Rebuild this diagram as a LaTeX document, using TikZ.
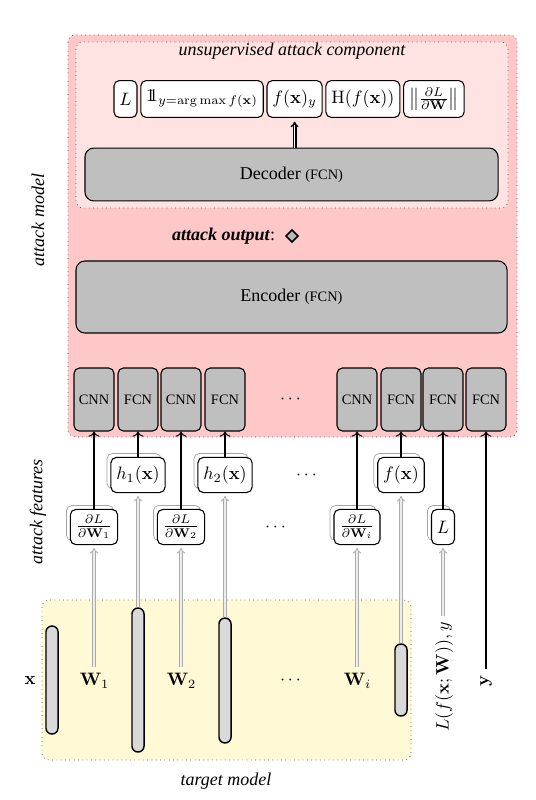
\documentclass[tikz,border=0pt]{standalone}
\usepackage{amsmath,amssymb}
\usepackage[no-math]{fontspec}
\setmainfont{Liberation Serif}
\usepackage{tikz}
\usetikzlibrary{arrows.meta,positioning,shapes.geometric,shadows}
\usepackage{xcolor}
\definecolor{atkpink}{HTML}{FFC8C8}
\definecolor{unsuppink}{HTML}{FFE3E3}
\definecolor{tgtyellow}{HTML}{FFF9D6}
\definecolor{netgray}{HTML}{BFBFBF}
\definecolor{layergray}{HTML}{D9D9D9}
\newcommand{\indicator}{\mathrm{1\mkern-6mu1}}

\begin{document}
\begin{tikzpicture}[
  x=0.5556pt, y=-0.5556pt,
  region/.style={draw=black!70, dotted, rounded corners=4pt, fill=#1},
  outbox/.style={draw, semithick, rounded corners=3pt, fill=white, minimum height=20.5pt, inner xsep=3pt, inner ysep=1pt},
  bigbox/.style={draw, semithick, rounded corners=5pt, fill=netgray},
  netbox/.style={draw, semithick, rounded corners=3pt, fill=netgray, minimum width=22.2pt, minimum height=35pt, inner sep=0pt, font=\footnotesize},
  featbox/.style={draw, semithick, rounded corners=3pt, fill=white, minimum height=19.5pt, inner xsep=3pt, inner ysep=1.5pt,
    copy shadow={shadow xshift=-2.2pt, shadow yshift=2.2pt, draw=gray!70, fill=white, thin}},
  layer/.style={draw, thick, fill=layergray, rounded corners=3.3pt, minimum width=6.7pt, inner sep=0pt},
  feed/.style={double=gray!15, draw=gray!65, line width=0.5pt, double distance=1.1pt, -{Implies}, shorten >=1.5pt},
  link/.style={-{To}, semithick},
  sidelabel/.style={rotate=90, font=\itshape}
]
  \useasboundingbox (0,0) rectangle (535,800);

  % Regions
  \draw[region=atkpink] (68,35) rectangle (517,437);
  \draw[region=unsuppink] (76,42) rectangle (508,208);
  \draw[region=tgtyellow] (42,600) rectangle (411,760);

  \node[font=\itshape] (unsuptitle) at (292,51) {unsupervised attack component};
  \node[sidelabel] (atkmodel) at (38,220) {attack model};
  \node[sidelabel] (atkfeat) at (38,512) {attack features};
  \node[font=\itshape] (tgtmodel) at (226,781) {target model};

  % Unsupervised outputs
  \node[outbox] (oloss) at (125.5,99) {$L$};
  \node[outbox, right=1.5pt of oloss] (oind) {$\indicator_{y=\arg\max f(\mathbf{x})}$};
  \node[outbox, right=1.5pt of oind] (ofxy) {$f(\mathbf{x})_y$};
  \node[outbox, right=1.5pt of ofxy] (oent) {$\mathrm{H}(f(\mathbf{x}))$};
  \node[outbox, right=1.5pt of oent] (onorm) {$\left\|\frac{\partial L}{\partial \mathbf{W}}\right\|$};

  % Decoder and encoder
  \node[bigbox, minimum width=229.5pt, minimum height=29.4pt] (dec) at (291.5,174.5) {Decoder {\footnotesize(FCN)}};
  \draw[double, thick, -{Implies}, shorten >=2pt] (dec.north -| ofxy.south) -- (ofxy.south);

  \node[diamond, draw, thick, fill=gray!55, inner sep=0pt, minimum size=7pt] (aout) at (292,236) {};
  \node[left=2pt of aout] (aouttxt) {\textbf{\textit{attack output}}:};

  \node[bigbox, minimum width=239.5pt, minimum height=40pt] (enc) at (291.5,297) {Encoder {\footnotesize(FCN)}};

  % Feature networks
  \node[netbox] (cnnA) at (94,399.5) {CNN};
  \node[netbox] (fcnA) at (138,399.5) {FCN};
  \node[netbox] (cnnB) at (181,399.5) {CNN};
  \node[netbox] (fcnB) at (225,399.5) {FCN};
  \node (netdots) at (292,399) {$\cdots$};
  \node[netbox] (cnnI) at (357,399.5) {CNN};
  \node[netbox] (fcnF) at (401,399.5) {FCN};
  \node[netbox] (fcnL) at (443,399.5) {FCN};
  \node[netbox] (fcnY) at (486,399.5) {FCN};

  % Attack features
  \node[featbox] (hA) at (138,475) {$h_1(\mathbf{x})$};
  \node[featbox] (hB) at (225,475) {$h_2(\mathbf{x})$};
  \node (hdots) at (308,475) {$\cdots$};
  \node[featbox] (fx) at (401,475) {$f(\mathbf{x})$};
  \node[featbox] (dwA) at (94,527) {$\frac{\partial L}{\partial \mathbf{W}_1}$};
  \node[featbox] (dwB) at (181,527) {$\frac{\partial L}{\partial \mathbf{W}_2}$};
  \node (dwdots) at (277,527) {$\cdots$};
  \node[featbox] (dwI) at (357,527) {$\frac{\partial L}{\partial \mathbf{W}_i}$};
  \node[featbox] (lossf) at (443,527) {$L$};

  % Target model
  \node[layer, minimum height=60pt] (layA) at (52,680) {};
  \node[layer, minimum height=80pt] (layB) at (138,680) {};
  \node[layer, minimum height=69.4pt] (layC) at (225,680.5) {};
  \node[layer, minimum height=40pt] (layD) at (401,680) {};
  \node (lx) at (30,680) {$\mathbf{x}$};
  \node (lwA) at (94.5,681) {$\mathbf{W}_1$};
  \node (lwB) at (181.5,681) {$\mathbf{W}_2$};
  \node (tdots) at (292,680) {$\cdots$};
  \node (lwI) at (357.5,681) {$\mathbf{W}_i$};
  \node[rotate=90] (lloss) at (444,677) {$L(f(\mathbf{x};\mathbf{W})),y$};
  \node[rotate=90] (ly) at (486,681) {$\mathbf{y}$};

  % Feeds from target model
  \draw[feed] (dwA.south |- lwA.north) -- (dwA.south);
  \draw[feed] (layB.north) -- (hA.south);
  \draw[feed] (dwB.south |- lwB.north) -- (dwB.south);
  \draw[feed] (layC.north) -- (hB.south);
  \draw[feed] (dwI.south |- lwI.north) -- (dwI.south);
  \draw[feed] (layD.north) -- (fx.south);
  \draw[feed] (lossf.south |- lloss.east) -- (lossf.south);

  % Links into attack model
  \draw[link] (dwA.north) -- (cnnA.south);
  \draw[link] (hA.north) -- (fcnA.south);
  \draw[link] (dwB.north) -- (cnnB.south);
  \draw[link] (hB.north) -- (fcnB.south);
  \draw[link] (dwI.north) -- (cnnI.south);
  \draw[link] (fx.north) -- (fcnF.south);
  \draw[link] (lossf.north) -- (fcnL.south);
  \draw[link] (fcnY.south |- ly.east) -- (fcnY.south);
\end{tikzpicture}
\end{document}
